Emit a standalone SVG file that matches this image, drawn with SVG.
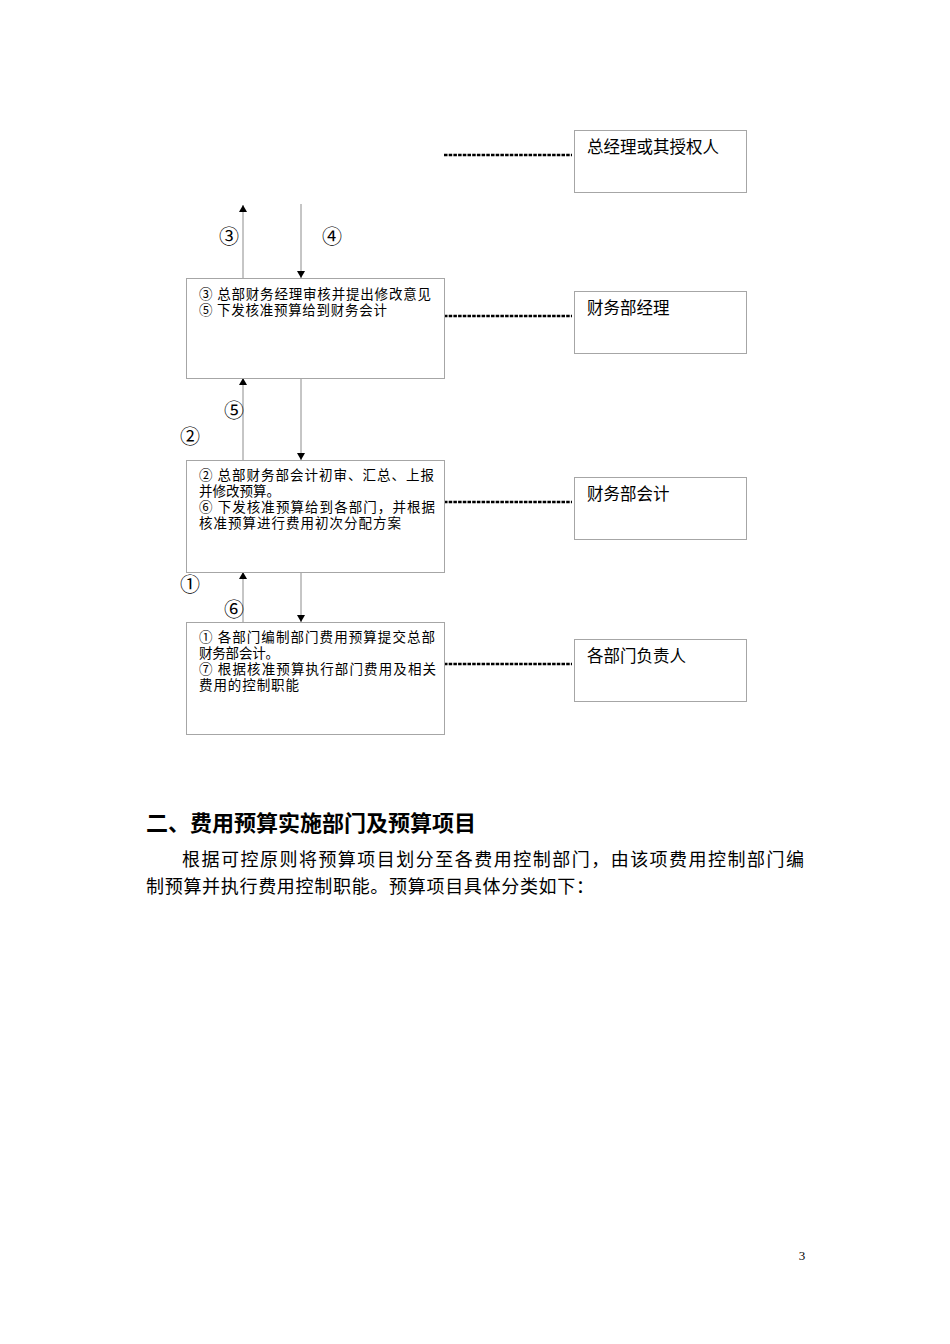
<svg xmlns="http://www.w3.org/2000/svg" width="950" height="1344" viewBox="0 0 950 1344">
<style>
.box{fill:#fff;stroke:#a6a6a6;stroke-width:1}
.t{font-family:"Noto Sans CJK SC","Liberation Serif",sans-serif;fill:#000}
.bt{font-size:13.5px}
.rt{font-size:16.5px}
.num{font-family:"Noto Sans CJK SC","Liberation Serif",sans-serif;font-size:20px;fill:#000}
.dash{stroke:#000;stroke-width:2.5;stroke-dasharray:3.5 1.2;fill:none}
.arr{stroke:#8c8c8c;stroke-width:1;fill:none}
</style>
<defs>
<marker id="ah" markerWidth="8" markerHeight="8" refX="7" refY="4" orient="auto" markerUnits="userSpaceOnUse">
<path d="M0,0 L7,4 L0,8 Z" fill="#000"/>
</marker>
</defs>
<rect width="950" height="1344" fill="#fff"/>
<g id="connectors">
<line class="dash" x1="444" y1="155" x2="572" y2="155"/>
<line class="dash" x1="444" y1="316" x2="572" y2="316"/>
<line class="dash" x1="444" y1="502" x2="572" y2="502"/>
<line class="dash" x1="444" y1="664" x2="572" y2="664"/>
<line class="arr" x1="243" y1="278" x2="243" y2="205" marker-end="url(#ah)"/>
<line class="arr" x1="301" y1="204" x2="301" y2="278" marker-end="url(#ah)"/>
<line class="arr" x1="243" y1="460" x2="243" y2="378" marker-end="url(#ah)"/>
<line class="arr" x1="301" y1="378" x2="301" y2="460" marker-end="url(#ah)"/>
<line class="arr" x1="243" y1="622" x2="243" y2="572" marker-end="url(#ah)"/>
<line class="arr" x1="301" y1="572" x2="301" y2="622" marker-end="url(#ah)"/>
<text class="num" x="229" y="244" text-anchor="middle">③</text>
<text class="num" x="332" y="244" text-anchor="middle">④</text>
<text class="num" x="234" y="418" text-anchor="middle">⑤</text>
<text class="num" x="190" y="444" text-anchor="middle">②</text>
<text class="num" x="190" y="592" text-anchor="middle">①</text>
<text class="num" x="234" y="617" text-anchor="middle">⑥</text>
</g>
<g id="node-gm">
<rect class="box" x="574.5" y="130.5" width="172" height="62"/>
<text class="t rt" x="587" y="153">总经理或其授权人</text>
</g>
<g id="node-fm">
<rect class="box" x="574.5" y="291.5" width="172" height="62"/>
<text class="t rt" x="587" y="314">财务部经理</text>
</g>
<g id="node-fa">
<rect class="box" x="574.5" y="477.5" width="172" height="62"/>
<text class="t rt" x="587" y="500">财务部会计</text>
</g>
<g id="node-dh">
<rect class="box" x="574.5" y="639.5" width="172" height="62"/>
<text class="t rt" x="587" y="662">各部门负责人</text>
</g>
<g id="node-step-fm">
<rect class="box" x="186.5" y="278.5" width="258" height="100"/>
<text class="t bt" x="199" y="299" textLength="232" lengthAdjust="spacing">③ 总部财务经理审核并提出修改意见</text>
<text class="t bt" x="199" y="315" textLength="188" lengthAdjust="spacing">⑤ 下发核准预算给到财务会计</text>
</g>
<g id="node-step-fa">
<rect class="box" x="186.5" y="460.5" width="258" height="112"/>
<text class="t bt" x="199" y="480" textLength="235" lengthAdjust="spacing">② 总部财务部会计初审、汇总、上报</text>
<text class="t bt" x="199" y="496" textLength="81" lengthAdjust="spacing">并修改预算。</text>
<text class="t bt" x="199" y="512" textLength="236" lengthAdjust="spacing">⑥ 下发核准预算给到各部门，并根据</text>
<text class="t bt" x="199" y="528" textLength="202" lengthAdjust="spacing">核准预算进行费用初次分配方案</text>
</g>
<g id="node-step-dh">
<rect class="box" x="186.5" y="622.5" width="258" height="112"/>
<text class="t bt" x="199" y="642" textLength="236" lengthAdjust="spacing">① 各部门编制部门费用预算提交总部</text>
<text class="t bt" x="199" y="658" textLength="80" lengthAdjust="spacing">财务部会计。</text>
<text class="t bt" x="199" y="674" textLength="237" lengthAdjust="spacing">⑦ 根据核准预算执行部门费用及相关</text>
<text class="t bt" x="199" y="690" textLength="100" lengthAdjust="spacing">费用的控制职能</text>
</g>
<text class="t" x="146" y="831" font-size="22" font-weight="bold">二、费用预算实施部门及预算项目</text>
<text class="t" x="182" y="866" font-size="18" textLength="622" lengthAdjust="spacing">根据可控原则将预算项目划分至各费用控制部门，由该项费用控制部门编</text>
<text class="t" x="146" y="893" font-size="18" textLength="448" lengthAdjust="spacing">制预算并执行费用控制职能。预算项目具体分类如下：</text>
<text x="802" y="1260" font-family="Liberation Serif,serif" font-size="13" text-anchor="middle">3</text>
</svg>
